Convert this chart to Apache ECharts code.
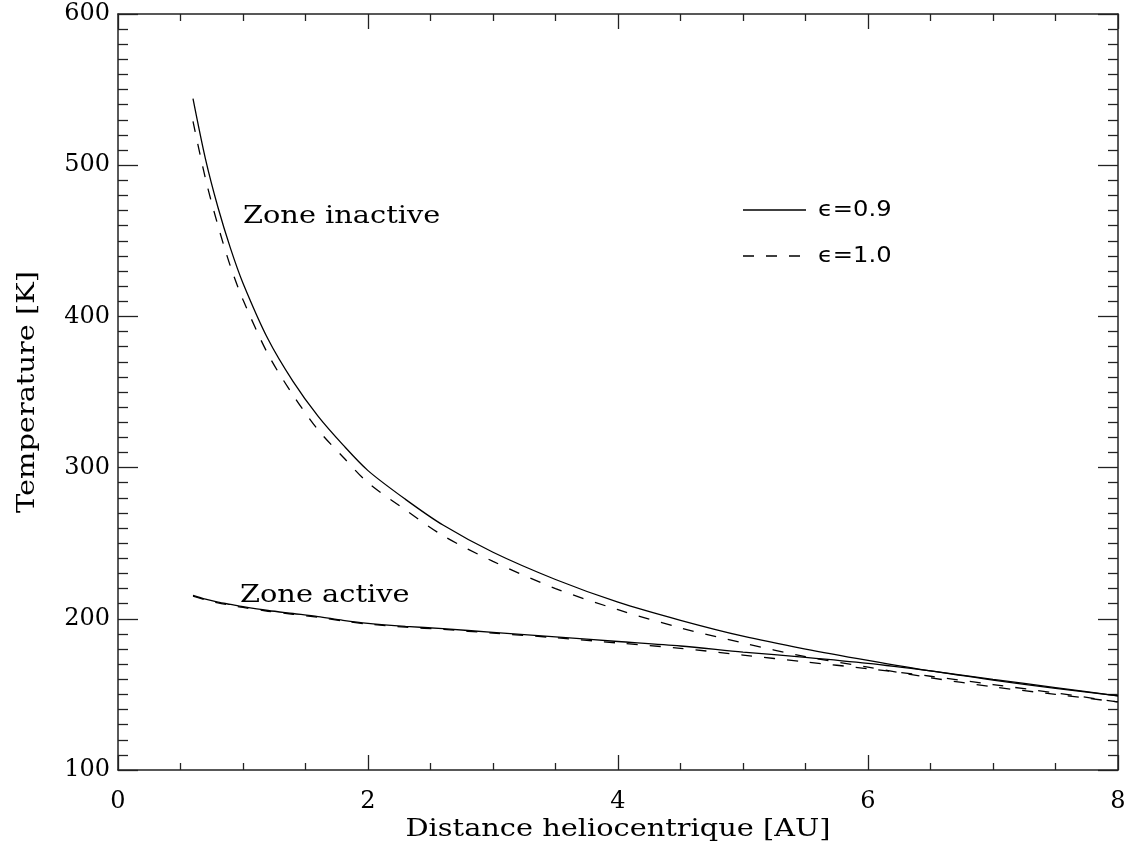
<!DOCTYPE html>
<html>
<head>
<meta charset="utf-8">
<script src="https://cdn.jsdelivr.net/npm/echarts@6/dist/echarts.min.js"></script>
<style>
  html, body { margin: 0; padding: 0; background: #fff; }
  #chart { width: 1134px; height: 852px; }
</style>
</head>
<body>
<div id="chart"></div>
<script>
// distance heliocentrique [AU]
var distances = [0.6, 0.7, 0.8, 0.9, 1.0, 1.2, 1.4, 1.6, 1.8, 2.0, 2.3, 2.6, 3.0, 3.5, 4.0, 4.5, 5.0, 5.5, 6.0, 6.5, 7.0, 7.5, 8.0];
// zone inactive
var inactiveEps09 = [544, 504, 472, 445, 422, 385, 357, 334, 315, 298, 279, 262, 244, 226, 211, 199, 188.5, 180, 172.5, 165.5, 159.5, 154, 149];
var inactiveEps10 = [529, 491, 460, 433, 411, 375, 348, 325, 307, 290, 272, 255, 238, 220, 206, 194, 184, 175, 168, 161, 155, 150, 145];
// zone active
var activeEps09 = [215.5, 213, 211, 209.5, 208, 205.5, 203.5, 201.5, 199, 197, 195, 193.5, 191, 188, 185, 182, 178, 174.5, 170.5, 165.5, 160, 154.5, 149];
var activeEps10 = [215, 212.5, 210.5, 209, 207.5, 205, 203, 201, 198.5, 196.5, 194.5, 193, 190.5, 187.5, 184, 180.5, 176, 171.5, 167, 162, 156.5, 151, 145];

var xTicks = [0, 2, 4, 6, 8];
var yTicks = [100, 200, 300, 400, 500, 600];

var font = 'DejaVu Serif';
var ink = '#000';

function pairs(ys) {
  return distances.map(function (x, i) { return [x, ys[i]]; });
}

var chart = echarts.init(document.getElementById('chart'));

var solid = { color: ink, width: 1.3, type: 'solid' };
var dashed = { color: ink, width: 1.3, type: [11, 12] };

function lineSeries(name, ys, style) {
  return {
    name: name,
    type: 'line',
    data: pairs(ys),
    showSymbol: false,
    symbol: 'none',
    smooth: 0.3,
    lineStyle: style,
    silent: true
  };
}

var boxLine = { show: true, onZero: false, lineStyle: { color: '#222', width: 1.5 } };

var xAxisBase = {
  type: 'value',
  min: xTicks[0],
  max: xTicks[xTicks.length - 1],
  interval: 2,
  axisLine: boxLine,
  axisTick: { inside: true, length: 15, lineStyle: { color: '#222', width: 1.3 } },
  minorTick: { show: true, splitNumber: 4, length: 7, lineStyle: { color: '#222', width: 1.3 } },
  splitLine: { show: false }
};

var yAxisBase = {
  type: 'value',
  min: yTicks[0],
  max: yTicks[yTicks.length - 1],
  interval: 100,
  axisLine: boxLine,
  axisTick: { inside: true, length: 20, lineStyle: { color: '#222', width: 1.3 } },
  minorTick: { show: true, splitNumber: 10, length: 10, lineStyle: { color: '#222', width: 1.3 } },
  splitLine: { show: false }
};

// wide serif text (the original uses a wide vector font)
function label(text, x, y, opts) {
  opts = opts || {};
  return {
    type: 'text',
    x: x,
    y: y,
    rotation: opts.rotation || 0,
    scaleX: opts.scaleX || 1.2,
    silent: true,
    style: {
      text: text,
      font: (opts.size || 24) + 'px "' + (opts.family || font) + '"',
      fill: ink,
      align: opts.align || 'left',
      verticalAlign: 'middle'
    }
  };
}

function legendLine(x1, x2, y, style) {
  return {
    type: 'line',
    silent: true,
    shape: { x1: x1, y1: y, x2: x2, y2: y },
    style: { stroke: ink, lineWidth: 1.3, lineDash: style.type === 'solid' ? null : style.type }
  };
}

var option = {
  backgroundColor: '#fff',
  animation: false,
  grid: { left: 118, right: 16, top: 14, bottom: 82, containLabel: false },
  xAxis: [
    Object.assign({}, xAxisBase, {
      position: 'bottom',
      axisLabel: { fontFamily: font, fontSize: 24, color: ink, margin: 20 }
    }),
    Object.assign({}, xAxisBase, {
      position: 'top',
      axisLabel: { show: false }
    })
  ],
  yAxis: [
    Object.assign({}, yAxisBase, {
      position: 'left',
      axisLabel: { fontFamily: font, fontSize: 24, color: ink, margin: 8 }
    }),
    Object.assign({}, yAxisBase, {
      position: 'right',
      axisLabel: { show: false }
    })
  ],
  graphic: [
    label('Distance heliocentrique [AU]', 618, 830, { align: 'center' }),
    label('Temperature [K]', 28, 392, { align: 'center', rotation: Math.PI / 2 }),
    label('Zone inactive', 243, 217),
    label('Zone active', 240, 596),
    legendLine(743, 806, 210, solid),
    legendLine(743, 806, 256, dashed),
    label('ϵ=0.9', 818, 211, { family: 'DejaVu Sans', size: 21, scaleX: 1.15 }),
    label('ϵ=1.0', 818, 257, { family: 'DejaVu Sans', size: 21, scaleX: 1.15 })
  ],
  series: [
    lineSeries('ϵ=0.9', inactiveEps09, solid),
    lineSeries('ϵ=1.0', inactiveEps10, dashed),
    lineSeries('ϵ=0.9', activeEps09, solid),
    lineSeries('ϵ=1.0', activeEps10, dashed)
  ]
};

chart.setOption(option);
</script>
</body>
</html>
